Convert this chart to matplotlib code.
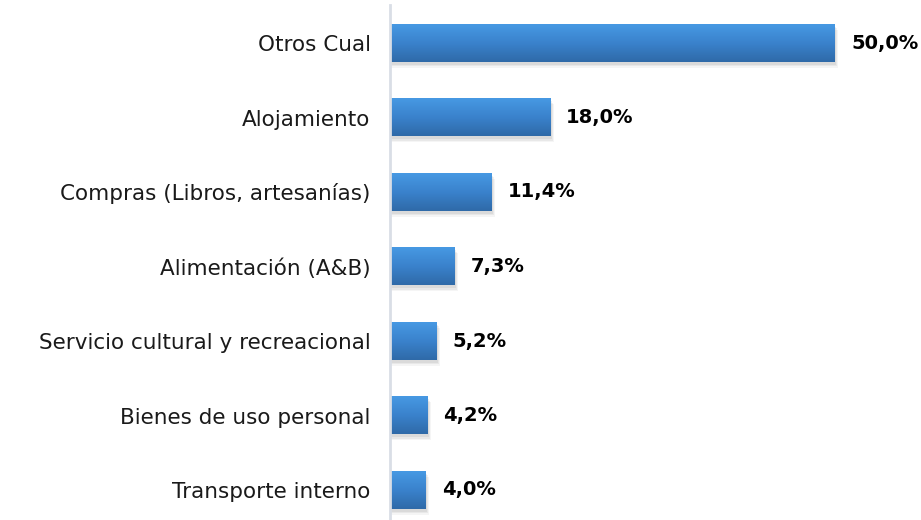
import numpy as np
import matplotlib.pyplot as plt
from matplotlib.colors import LinearSegmentedColormap
from matplotlib.patches import Rectangle

# datos
categorias = ["Otros Cual", "Alojamiento", "Compras (Libros, artesanías)",
              "Alimentación (A&B)", "Servicio cultural y recreacional",
              "Bienes de uso personal", "Transporte interno"]
valores = [50.0, 18.0, 11.4, 7.3, 5.2, 4.2, 4.0]

fig = plt.figure(figsize=(9.21, 5.2), dpi=100)
ax = fig.add_axes([390 / 921, 0, 531 / 921, 515 / 520])

xmax = 531 / 8.9
top = -38 / 74.5
bottom = (520 - 43) / 74.5

# degradado azul de las barras
cmap = LinearSegmentedColormap.from_list("azul", ["#4799e3", "#3a82cc", "#2f6aa8"])
grad = np.linspace(0, 1, 100).reshape(-1, 1)
h = 0.51

for i, v in enumerate(valores):
    # sombra
    for k, a in enumerate([0.06, 0.05, 0.04]):
        d = 0.035 + k * 0.02
        ax.add_patch(Rectangle((0, i - h / 2 + d), v + 0.15 + k * 0.12, h,
                               facecolor="black", alpha=a, edgecolor="none", zorder=1))
    ax.imshow(grad, extent=(0, v, i + h / 2, i - h / 2), cmap=cmap,
              aspect="auto", zorder=2, interpolation="bilinear")
    ax.text(v + 1.8, i, f"{v:.1f}%".replace(".", ","), va="center", ha="left",
            fontsize=14, fontweight="bold", family="DejaVu Sans", zorder=3)

ax.set_xlim(0, xmax)
ax.set_ylim(bottom, top)
ax.set_yticks(range(len(categorias)))
ax.set_yticklabels(categorias, fontsize=15.5, family="DejaVu Sans", color="#1a1a1a")
ax.tick_params(axis="y", length=0, pad=14)
ax.set_xticks([])
for s in ["top", "right", "bottom"]:
    ax.spines[s].set_visible(False)
ax.spines["left"].set_color("#d9dee6")
ax.spines["left"].set_linewidth(2)

plt.savefig("out.png", dpi=100)
